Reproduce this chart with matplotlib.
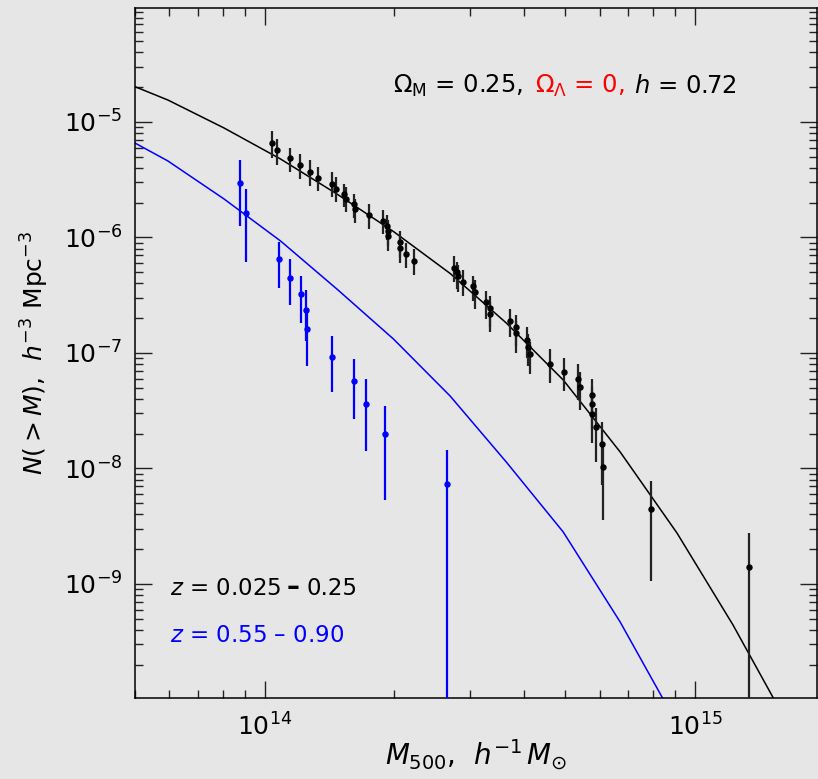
import numpy as np
import matplotlib
matplotlib.use("Agg")
import matplotlib.pyplot as plt
from matplotlib import font_manager
from matplotlib.ticker import LogLocator, NullFormatter

# --- model cumulative mass functions, evaluated on a log mass grid ---
model_mass = [4.40e13, 5.96e13, 8.05e13, 1.089e14, 1.472e14, 1.992e14, 2.698e14,
              3.643e14, 4.940e14, 6.699e14, 9.08e14, 1.225e15, 1.661e15, 2.24e15]
model_lowz = [2.452e-5, 1.55e-5, 8.87e-6, 4.78e-6, 2.38e-6, 1.127e-6, 4.88e-7,
              1.818e-7, 5.84e-8, 1.39e-8, 2.76e-9, 4.42e-10, 5.66e-11, 6.45e-12]
model_highz = [8.52e-6, 4.60e-6, 2.155e-6, 9.33e-7, 3.58e-7, 1.322e-7, 4.24e-8,
               1.138e-8, 2.82e-9, 4.69e-10, 6.14e-11, 6.98e-12]

# --- low-z sample: mass, N(>M), error bar extent in dex (up, down) ---
lowz_mass = [1.042e14, 1.070e14, 1.147e14, 1.206e14, 1.276e14, 1.332e14, 1.436e14,
             1.467e14, 1.531e14, 1.542e14, 1.615e14, 1.618e14, 1.746e14, 1.885e14,
             1.922e14, 1.932e14, 1.932e14, 2.065e14, 2.065e14, 2.135e14, 2.228e14,
             2.750e14, 2.800e14, 2.809e14, 2.885e14, 3.043e14, 3.075e14, 3.274e14,
             3.340e14, 3.340e14, 3.709e14, 3.837e14, 3.837e14, 4.076e14, 4.083e14,
             4.136e14, 4.602e14, 4.966e14, 5.333e14, 5.411e14, 5.757e14, 5.768e14,
             5.777e14, 5.883e14, 6.095e14, 6.107e14, 7.906e14, 1.336e15]
lowz_n = [6.57e-6, 5.67e-6, 4.86e-6, 4.20e-6, 3.70e-6, 3.30e-6, 2.93e-6,
          2.65e-6, 2.38e-6, 2.17e-6, 1.95e-6, 1.75e-6, 1.55e-6, 1.40e-6,
          1.25e-6, 1.13e-6, 1.03e-6, 9.10e-7, 8.14e-7, 7.16e-7, 6.27e-7,
          5.45e-7, 5.03e-7, 4.61e-7, 4.14e-7, 3.77e-7, 3.37e-7, 2.74e-7,
          2.43e-7, 2.18e-7, 1.90e-7, 1.67e-7, 1.48e-7, 1.30e-7, 1.13e-7,
          9.74e-8, 8.02e-8, 6.88e-8, 5.91e-8, 5.09e-8, 4.29e-8, 3.60e-8,
          2.95e-8, 2.27e-8, 1.62e-8, 1.03e-8, 4.46e-9, 1.39e-9]
lowz_up = [0.10, 0.10, 0.09, 0.10, 0.10, 0.09, 0.10, 0.10, 0.09, 0.10, 0.09, 0.09,
           0.10, 0.09, 0.10, 0.10, 0.10, 0.10, 0.10, 0.10, 0.10, 0.10, 0.09, 0.10,
           0.10, 0.09, 0.10, 0.10, 0.11, 0.10, 0.10, 0.11, 0.11, 0.11, 0.11, 0.11,
           0.13, 0.12, 0.13, 0.13, 0.14, 0.15, 0.16, 0.17, 0.19, 0.22, 0.24, 0.30]
lowz_dn = [0.13, 0.13, 0.12, 0.12, 0.12, 0.12, 0.12, 0.12, 0.11, 0.12, 0.12, 0.12,
           0.12, 0.12, 0.12, 0.13, 0.13, 0.13, 0.13, 0.12, 0.12, 0.12, 0.15, 0.14,
           0.12, 0.13, 0.15, 0.14, 0.16, 0.16, 0.14, 0.16, 0.17, 0.16, 0.17, 0.17,
           0.16, 0.17, 0.18, 0.20, 0.20, 0.22, 0.25, 0.30, 0.35, 0.46, 0.62, 3.0]

# --- high-z sample ---
highz_mass = [8.76e13, 9.03e13, 1.078e14, 1.147e14, 1.217e14, 1.250e14, 1.254e14,
              1.431e14, 1.611e14, 1.718e14, 1.905e14, 2.654e14]
highz_n = [2.97e-6, 1.62e-6, 6.53e-7, 4.49e-7, 3.21e-7, 2.35e-7, 1.62e-7,
           9.18e-8, 5.74e-8, 3.65e-8, 1.98e-8, 7.30e-9]
highz_up = [0.20, 0.21, 0.15, 0.16, 0.16, 0.17, 0.15, 0.18, 0.19, 0.21, 0.24, 0.30]
highz_dn = [0.37, 0.42, 0.25, 0.24, 0.25, 0.27, 0.32, 0.30, 0.33, 0.41, 0.57, 3.0]


def pick_font(names):
    for name in names:
        try:
            font_manager.findfont(name, fallback_to_default=False)
            return name
        except ValueError:
            continue
    return "DejaVu Sans"


family = pick_font(["DejaVu Sans Condensed", "Liberation Sans Narrow", "DejaVu Sans"])
plt.rcParams["font.family"] = [family, "DejaVu Sans"]
plt.rcParams["mathtext.fontset"] = "custom"
plt.rcParams["mathtext.rm"] = family
plt.rcParams["mathtext.it"] = family + ":italic"
plt.rcParams["mathtext.bf"] = family + ":bold"
plt.rcParams["axes.unicode_minus"] = True

bg = "#e6e6e6"
fs = 18
fs_note = 17.5
fs_leg = 16.5


def yerr(n, up, dn):
    n = np.asarray(n)
    return [n - n * 10 ** (-np.asarray(dn)), n * 10 ** np.asarray(up) - n]


fig = plt.figure(figsize=(8.18, 7.79), dpi=100, facecolor=bg)
ax = fig.add_axes([135 / 818, 81 / 779, 682 / 818, 690 / 779], facecolor=bg)

ax.errorbar(lowz_mass, lowz_n, yerr=yerr(lowz_n, lowz_up, lowz_dn), fmt="o",
            ms=3.6, color="black", ecolor="#222222", elinewidth=1.6, capsize=0, zorder=3)
ax.errorbar(highz_mass, highz_n, yerr=yerr(highz_n, highz_up, highz_dn), fmt="o",
            ms=3.6, color="#0000ff", ecolor="#0000ff", elinewidth=1.6, capsize=0, zorder=3)

ax.plot(model_mass, model_lowz, color="black", lw=1.1, zorder=2)
ax.plot(model_mass[:len(model_highz)], model_highz, color="#0000ff", lw=1.1, zorder=2)

ax.set_xscale("log")
ax.set_yscale("log")
ax.set_xlim(5.0e13, 1.92e15)
ax.set_ylim(1.03e-10, 9.7e-5)

for axis in (ax.xaxis, ax.yaxis):
    axis.set_major_locator(LogLocator(base=10))
    axis.set_minor_locator(LogLocator(base=10, subs=np.arange(2, 10)))
    axis.set_minor_formatter(NullFormatter())

ax.tick_params(which="both", direction="in", top=True, right=True, width=1.0,
               color="#222222", labelsize=fs)
ax.tick_params(which="major", length=12)
ax.tick_params(which="minor", length=6)
ax.tick_params(axis="x", pad=11)
ax.tick_params(axis="y", pad=9)
for sp in ax.spines.values():
    sp.set_linewidth(1.1)

ax.set_xlabel(r"$M_{\mathrm{500}}$,  $h^{-1}\,M_{\odot}$", fontsize=20, labelpad=-2)
ax.set_ylabel(r"$N(>M)$,  $h^{-3}$ Mpc$^{-3}$", fontsize=fs, labelpad=9)

# cosmology note
ax.text(0.378, 0.887, r"$\Omega_{\mathrm{M}}$ = 0.25,", transform=ax.transAxes,
        fontsize=fs_note, ha="left", va="center", color="black")
ax.text(0.586, 0.887, r"$\Omega_{\Lambda}$ = 0,", transform=ax.transAxes,
        fontsize=fs_note, ha="left", va="center", color="red")
ax.text(0.731, 0.887, r"$h$ = 0.72", transform=ax.transAxes,
        fontsize=fs_note, ha="left", va="center", color="black")

# redshift ranges
ax.text(0.051, 0.159, r"$z$ = 0.025", transform=ax.transAxes,
        fontsize=fs_leg, ha="left", va="center", color="black")
ax.text(0.232, 0.159, "\u2013", transform=ax.transAxes, fontsize=fs_leg + 2,
        fontweight="bold", ha="center", va="center", color="black")
ax.text(0.2517, 0.159, "0.25", transform=ax.transAxes,
        fontsize=fs_leg, ha="left", va="center", color="black")
ax.text(0.051, 0.091, "$z$ = 0.55 \u2013 0.90",
        transform=ax.transAxes, fontsize=fs_leg, ha="left", va="center", color="#0000ff")

fig.savefig("out.png", dpi=100, facecolor=bg)
